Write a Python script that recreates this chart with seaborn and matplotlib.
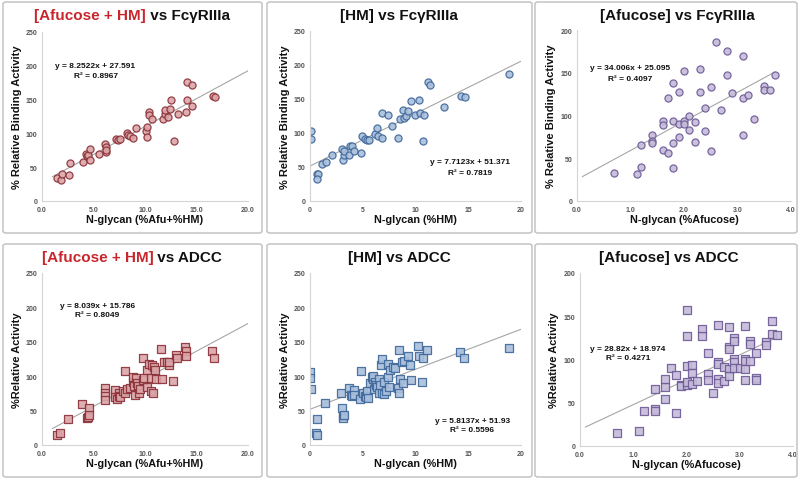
import numpy as np
import pandas as pd
import seaborn as sns
import matplotlib.pyplot as plt
from matplotlib.patches import FancyBboxPatch

# ---- data ----
# [Afucose + HM] vs FcγRIIIa
afuhm_fc_x = [1.45, 1.8, 1.9, 2.6, 2.7, 4.0, 4.3, 4.4, 4.5, 4.7, 4.7, 5.5, 6.1, 6.2, 6.2, 6.2,
              7.2, 7.35, 7.6, 8.3, 8.35, 8.5, 8.8, 9.1, 10.1, 10.2, 10.2, 10.4, 10.4, 10.7,
              11.7, 11.9, 11.9, 12.2, 12.4, 12.5, 12.8, 13.2, 14.0, 14.1, 14.1, 14.6, 14.6,
              16.6, 16.8]
afuhm_fc_y = [34, 31.5, 40, 39, 56, 58, 70, 66, 68, 77, 61, 69, 84, 80, 72, 76,
              91, 90, 91, 101, 97, 96, 93, 108, 104, 110, 95, 131, 127, 122,
              122, 128, 134, 125, 136, 149, 89, 128, 131, 150, 176, 172, 140,
              155, 154]

# [HM] vs FcγRIIIa
hm_fc_x = [0.1, 0.1, 0.7, 0.8, 0.7, 1.1, 1.5, 2.05, 3.0, 3.1, 3.2, 3.25, 3.7, 3.8, 4.0, 4.2,
           4.8, 4.9, 5.2, 5.4, 5.6, 6.2, 6.35, 6.4, 6.85, 6.85, 7.4, 7.75, 8.3, 8.5, 8.8,
           8.9, 9.1, 9.3, 9.6, 9.95, 10.3, 10.4, 10.7, 10.8, 11.2, 11.4, 12.7, 14.3, 14.7, 18.9]
hm_fc_y = [102.5, 91, 39, 39, 32, 55, 58, 68, 76, 60, 67, 73, 68, 81.5, 81.5, 74,
           70, 96, 91, 89, 89, 99, 107, 95, 130, 92, 126, 110, 93, 121, 134,
           122, 125, 133, 147, 127, 148, 130, 88, 127, 175, 170, 138, 154, 153, 186.5]

# [Afucose] vs FcγRIIIa
afu_fc_x = [0.7, 1.13, 1.2, 1.2, 1.4, 1.4, 1.4, 1.6, 1.6, 1.6, 1.7, 1.7, 1.8, 1.8, 1.8, 1.8,
            1.9, 1.9, 1.9, 2.0, 2.0, 2.0, 2.1, 2.1, 2.2, 2.2, 2.3, 2.3, 2.4, 2.4, 2.5, 2.5,
            2.6, 2.7, 2.8, 2.8, 2.9, 3.1, 3.1, 3.1, 3.2, 3.3, 3.5, 3.5, 3.6, 3.7]
afu_fc_y = [33, 32, 40, 65, 77, 70, 68, 60, 93, 89, 121, 56, 138, 93, 68, 38.5,
            127, 90, 75, 152.5, 94, 89.5, 99, 83, 92, 69, 154, 127, 109, 82, 133, 58,
            186, 107, 175, 147, 126, 170, 121, 77, 124, 96, 134, 130, 130, 147.5]

# [Afucose + HM] vs ADCC
afuhm_adcc_x = [1.45, 1.7, 2.5, 3.9, 4.35, 4.5, 4.6, 4.6, 6.1, 6.1, 6.1, 6.1, 7.1, 7.1, 7.25,
                7.5, 7.5, 7.6, 7.9, 8.1, 8.1, 8.3, 8.5, 8.8, 8.8, 8.95, 9.0, 9.1, 9.25, 9.35,
                9.45, 9.5, 9.8, 9.85, 9.9, 10.2, 10.2, 10.35, 10.55, 10.55, 10.7, 10.75, 10.9,
                11.0, 11.05, 11.6, 11.65, 11.8, 12.1, 12.3, 12.35, 12.7, 13.0, 13.1, 13.9,
                13.95, 14.0, 16.5, 16.7]
afuhm_adcc_y = [14.6, 17, 38, 60, 39, 41, 54.5, 44, 83, 76, 70.5, 65, 80, 70, 67,
                75, 71, 69.5, 78, 108, 75, 82, 83, 91, 99, 86, 73, 98, 90, 86,
                76, 82, 94, 126, 98, 109, 84, 118, 97, 78, 117, 75, 114,
                109, 96, 139.5, 96, 121, 120, 117, 121, 93, 131, 127, 143,
                136.7, 129, 136.7, 127]

# [HM] vs ADCC
hm_adcc_x = [0, 0, 0.05, 0.6, 0.7, 0.7, 1.4, 2.9, 3.0, 3.1, 3.1, 3.2, 3.7, 3.9, 4.0, 4.2, 4.2,
             4.7, 4.8, 5.05, 5.2, 5.3, 5.4, 5.5, 5.7, 5.85, 5.95, 6.0, 6.1, 6.15, 6.3, 6.35,
             6.5, 6.55, 6.65, 6.7, 6.8, 6.85, 7.0, 7.0, 7.25, 7.35, 7.35, 7.5, 7.6, 7.85,
             8.05, 8.3, 8.4, 8.45, 8.5, 8.7, 8.85, 8.95, 9.3, 9.5, 9.55, 10.2, 10.3, 10.6,
             10.7, 11.1, 14.2, 14.6, 18.9]
hm_adcc_y = [105.5, 98, 82, 17, 14.6, 38, 61, 76, 54, 42, 39, 44, 83, 72, 70.5, 80, 72,
             67, 108, 75, 71, 70, 78, 68.6, 90, 99, 96, 99.7, 82, 91, 87.5, 83.7,
             96, 76, 87, 117, 76, 125, 73.5, 92, 78, 117.7, 98.7, 85, 109, 113,
             112, 82.7, 75, 138.6, 96, 120, 90, 121.6, 130, 116, 95, 143.5, 129, 92,
             127, 138.6, 135.7, 127, 140.6]

# [Afucose] vs ADCC
afu_adcc_x = [0.7, 1.1, 1.2, 1.4, 1.4, 1.4, 1.6, 1.6, 1.6, 1.7, 1.8, 1.8, 1.9, 1.9, 2.0, 2.0,
              2.0, 2.0, 2.0, 2.1, 2.1, 2.1, 2.2, 2.3, 2.3, 2.4, 2.4, 2.4, 2.5, 2.6, 2.6, 2.6,
              2.6, 2.6, 2.7, 2.7, 2.8, 2.8, 2.8, 2.8, 2.8, 2.9, 2.9, 2.9, 2.9, 2.9, 3.0, 3.1,
              3.1, 3.1, 3.1, 3.1, 3.2, 3.2, 3.2, 3.3, 3.3, 3.3, 3.5, 3.5, 3.6, 3.6, 3.7]
afu_adcc_y = [14.7, 17.4, 40, 43, 41, 66, 54.5, 68.5, 77, 90, 82, 38, 71, 69, 157, 127,
              92, 71, 73.5, 94, 84, 72, 75, 135, 127, 107.5, 83, 76, 61, 140, 97, 95,
              78, 73, 91, 75, 138, 115, 112, 89, 81, 125, 121, 100.6, 97, 90, 90, 139,
              100.6, 98.6, 89, 76, 121, 118, 98.6, 108, 79, 76, 120, 117, 144, 129.6, 128.4]

# trendlines as printed on the chart: slope, intercept, x range
trend_eq = ["y = 8.2522x + 27.591", "y = 7.7123x + 51.371", "y = 34.006x + 25.095",
            "y = 8.039x + 15.786", "y = 5.8137x + 51.93", "y = 28.82x + 18.974"]
trend_r2 = ["R² = 0.8967", "R² = 0.7819", "R² = 0.4097",
            "R² = 0.8049", "R² = 0.5596", "R² = 0.4271"]
trend_slope = [8.2522, 7.7123, 34.006, 8.039, 5.8137, 28.82]
trend_icpt = [27.591, 51.371, 25.095, 15.786, 51.93, 18.974]
trend_xrange = [(1.0, 20.0), (0.0, 20.0), (0.1, 3.7), (1.0, 20.0), (0.0, 20.0), (0.1, 3.7)]

titles_red = ["[Afucose + HM]", "", "", "[Afucose + HM]", "", ""]
titles_black = [" vs FcγRIIIa", "[HM] vs FcγRIIIa", "[Afucose] vs FcγRIIIa",
                " vs ADCC", "[HM] vs ADCC", "[Afucose] vs ADCC"]
xlabels = ["N-glycan (%Afu+%HM)", "N-glycan (%HM)", "N-glycan (%Afucose)"] * 2
ylabels = ["% Relative Binding Activity"] * 3 + ["%Relative Activity"] * 3
xticks_list = [[0, 5, 10, 15, 20], [0, 5, 10, 15, 20], [0, 1, 2, 3, 4]] * 2
xtick_fmt = ["{:.1f}", "{:.0f}", "{:.1f}"] * 2
ymax = [250, 250, 200, 250, 250, 200]

datasets = [(afuhm_fc_x, afuhm_fc_y), (hm_fc_x, hm_fc_y), (afu_fc_x, afu_fc_y),
            (afuhm_adcc_x, afuhm_adcc_y), (hm_adcc_x, hm_adcc_y), (afu_adcc_x, afu_adcc_y)]

# ---- style ----
sns.set_style("white")
plt.rcParams['font.family'] = ['Liberation Sans', 'DejaVu Sans']

fills = ["#dba5a8", "#a9bfdc", "#c6bbd9"] * 2
edges = ["#8a3036", "#3e6799", "#6c5a96"] * 2
markers = ["o"] * 3 + ["s"] * 3
RED = "#c8262c"

W, H = 800, 481
fig = plt.figure(figsize=(8, 4.81), dpi=100)

# panel frames (pixel boxes: x0, y0, x1, y1 from top-left)
frames = [(3, 3, 262, 234), (267, 3, 532, 234), (535, 3, 797, 234),
          (3, 245, 262, 478), (267, 245, 532, 478), (535, 245, 797, 478)]
axes_px = [(42, 33, 248, 202), (310, 32, 521, 202), (577, 31, 791, 202),
           (42, 274, 248, 446), (310, 274, 521, 446), (580, 274, 793, 447)]
title_cx = [132, 399, 677, 132, 399, 669]
title_cy = [16, 16, 16, 258, 258, 258]
eq_pos = [(0.26, 0.80, 0.745), (0.76, 0.235, 0.17), (0.25, 0.78, 0.715),
          (0.27, 0.81, 0.76), (0.77, 0.145, 0.093), (0.225, 0.566, 0.51)]

for (x0, y0, x1, y1) in frames:
    fig.patches.append(FancyBboxPatch((x0 / W, 1 - y1 / H), (x1 - x0) / W, (y1 - y0) / H,
                                      boxstyle="round,pad=0,rounding_size=0.004",
                                      transform=fig.transFigure, fill=False,
                                      edgecolor="#c8c8c8", linewidth=1.2))

title_pairs = []
for i in range(6):
    x0, y0, x1, y1 = axes_px[i]
    ax = fig.add_axes([x0 / W, 1 - y1 / H, (x1 - x0) / W, (y1 - y0) / H])
    xs, ys = datasets[i]
    df = pd.DataFrame({"x": xs, "y": ys})

    lo, hi = trend_xrange[i]
    tl = pd.DataFrame({"x": [lo, hi],
                       "y": [trend_slope[i] * lo + trend_icpt[i], trend_slope[i] * hi + trend_icpt[i]]})
    sns.lineplot(data=tl, x="x", y="y", ax=ax, color="#a6a6a6", linewidth=0.8, zorder=1)
    sns.scatterplot(data=df, x="x", y="y", ax=ax, marker=markers[i], s=26,
                    color=fills[i], edgecolor=edges[i], linewidth=0.9, alpha=0.9, zorder=2)

    xt = xticks_list[i]
    ax.set_xlim(xt[0], xt[-1])
    ax.set_ylim(0, ymax[i])
    ax.set_xticks(xt)
    ax.set_xticklabels([xtick_fmt[i].format(v) for v in xt])
    ax.set_yticks(range(0, ymax[i] + 1, 50))
    ax.tick_params(axis="both", labelsize=5, colors="#555555", length=2, width=0.6, pad=1.5)
    for lab in ax.get_xticklabels() + ax.get_yticklabels():
        lab.set_fontweight("bold")
    for s in ["top", "right"]:
        ax.spines[s].set_visible(False)
    for s in ["left", "bottom"]:
        ax.spines[s].set_color("#d4d4d4")
        ax.spines[s].set_linewidth(0.8)

    ax.set_xlabel(xlabels[i], fontsize=7.8, fontweight="bold", color="#111111")
    ax.set_ylabel(ylabels[i], fontsize=8, fontweight="bold", color="#111111")
    ax.xaxis.set_label_coords(0.5, -0.105)
    ax.xaxis.label.set_va("center")
    ax.yaxis.set_label_coords(-0.12, 0.5)
    ax.yaxis.label.set_va("center")

    ex, ey1, ey2 = eq_pos[i]
    ax.text(ex, ey1, trend_eq[i], transform=ax.transAxes, ha="center", va="center",
            fontsize=6, fontweight="bold", color="#111111")
    ax.text(ex, ey2, trend_r2[i], transform=ax.transAxes, ha="center", va="center",
            fontsize=6, fontweight="bold", color="#111111")

    ty = 1 - title_cy[i] / H
    tr = fig.text(0, ty, titles_red[i], color=RED, fontsize=11, fontweight="bold",
                  ha="left", va="center")
    tb = fig.text(0, ty, titles_black[i], color="#111111", fontsize=11, fontweight="bold",
                  ha="left", va="center")
    title_pairs.append((tr, tb, title_cx[i]))

# centre the two-colour titles
fig.canvas.draw()
rend = fig.canvas.get_renderer()
for tr, tb, cx in title_pairs:
    w1 = tr.get_window_extent(rend).width if tr.get_text() else 0
    w2 = tb.get_window_extent(rend).width
    start = cx - (w1 + w2) / 2
    tr.set_x(start / W)
    tb.set_x((start + w1) / W)

fig.savefig("out.png", dpi=100)
plt.close()
